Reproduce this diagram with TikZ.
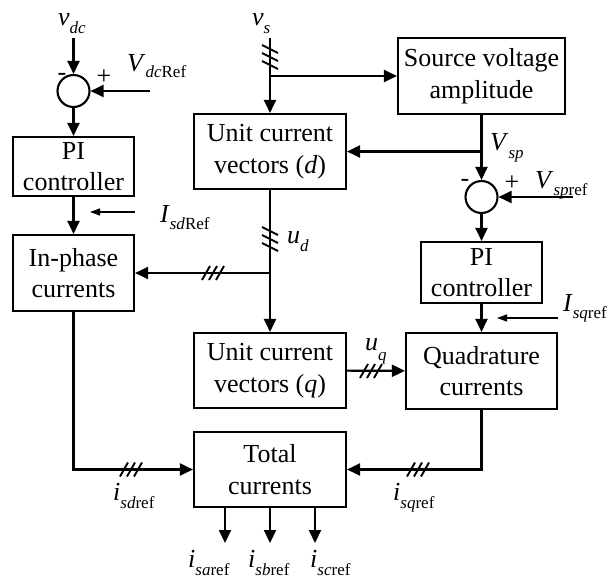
\documentclass[tikz,border=0pt]{standalone}
\usepackage{fontspec}
\setmainfont{Liberation Serif}
\usetikzlibrary{arrows.meta}
\newcommand\sbs[2][8pt]{\raisebox{-#1}{\fontsize{17}{17}\selectfont #2}}
\begin{document}
\begin{tikzpicture}[x=1pt,y=-1pt,
  font=\fontsize{26}{31.5}\selectfont,
  blk/.style={draw, line width=2.1pt, inner sep=0pt, align=center},
  conn/.style={line width=2.1pt, -{Triangle[length=13pt,width=12pt]}},
  thinarrow/.style={line width=1.1pt, -{Triangle[length=10pt,width=7pt]}},
  sumc/.style={circle, draw, line width=2.1pt, minimum size=32pt, inner sep=0pt},
  lbl/.style={anchor=base west, inner sep=0pt},
  sgn/.style={inner sep=0pt},
  vticks/.pic={\draw[line width=1.9pt] (-8,-12) -- (8,-4) (-8,-4) -- (8,4) (-8,4) -- (8,12);},
  hticks/.pic={\draw[line width=1.9pt] (-11,7) -- (-3,-7) (-4,7) -- (4,-7) (3,7) -- (11,-7);},
 ]
\useasboundingbox (0,0) rectangle (607,579);

% blocks
\node[blk, minimum width=121pt, minimum height=59pt] (pi1) at (73.5,166.5) {PI\\controller};
\node[blk, minimum width=121pt, minimum height=76pt] (inph) at (73.5,273) {In-phase\\currents};
\node[blk, minimum width=152pt, minimum height=75pt] (ucd) at (270,151.5) {Unit current\\vectors (\textit{d})};
\node[blk, minimum width=167pt, minimum height=76pt] (src) at (481.5,76) {Source voltage\\amplitude};
\node[blk, minimum width=121pt, minimum height=61pt] (pi2) at (481.5,272.5) {PI\\controller};
\node[blk, minimum width=152pt, minimum height=75pt] (ucq) at (270,370.5) {Unit current\\vectors (\textit{q})};
\node[blk, minimum width=151pt, minimum height=76pt] (quad) at (481.5,371) {Quadrature\\currents};
\node[blk, minimum width=152pt, minimum height=75pt] (tot) at (270,469.5) {Total\\currents};
\node[sumc] (s1) at (73.5,91) {};
\node[sumc] (s2) at (481.5,197) {};

% coordinates
\coordinate (vdcin) at (73.5,38);
\coordinate (vsin) at (270,38);
\coordinate (vdcref) at (150,91);
\coordinate (vspref) at (573,197);
\coordinate (br1) at (270,76);
\coordinate (br2) at (481.5,151.5);
\coordinate (br3) at (270,273);
\coordinate (isd1) at (135,212);
\coordinate (isd2) at (90,212);
\coordinate (isq1) at (558,318);
\coordinate (isq2) at (497,318);
\coordinate (oa) at (225,543);
\coordinate (ob) at (270,543);
\coordinate (oc) at (315,543);

% connectors
\draw[conn] (vdcin) -- (s1);
\draw[conn] (vdcref) -- (s1);
\draw[conn] (s1) -- (pi1);
\draw[conn] (pi1) -- (inph);
\draw[thinarrow] (isd1) -- (isd2);
\draw[conn] (vsin) -- (ucd);
\draw[conn] (br1) -- (src);
\draw[conn] (src) -- (s2);
\draw[conn] (br2) -- (ucd);
\draw[conn] (vspref) -- (s2);
\draw[conn] (s2) -- (pi2);
\draw[conn] (pi2) -- (quad);
\draw[thinarrow] (isq1) -- (isq2);
\draw[conn] (ucd) -- (ucq);
\draw[conn] (br3) -- (inph);
\draw[conn] (ucq) -- (quad);
\draw[conn] (inph.south) |- (tot.west);
\draw[conn] (quad.south) |- (tot.east);
\draw[conn] (tot.south -| oa) -- (oa);
\draw[conn] (tot.south -| ob) -- (ob);
\draw[conn] (tot.south -| oc) -- (oc);

% multi-phase tick marks
\pic at (270,57) {vticks};
\pic at (270,239) {vticks};
\pic at (213,273) {hticks};
\pic at (131,469.5) {hticks};
\pic at (418,469.5) {hticks};
\pic at (371,371) {hticks};

% signs
\node[sgn] (m1) at (62,77) {-};
\node[sgn] (p1) at (104,77) {+};
\node[sgn] (m2) at (465,183) {-};
\node[sgn] (p2) at (512,183) {+};

% labels
\node[lbl] (lvdc) at (58,25) {\textit{v}\sbs{\textit{dc}}};
\node[lbl] (lvs) at (252,25) {\textit{v}\sbs{\textit{s}}};
\node[lbl] (lvdcref) at (127,71) {\textit{V}\sbs[6pt]{\textit{dc}Ref}};
\node[lbl] (lisdref) at (160,222) {\textit{I}\sbs[7pt]{\textit{sd}Ref}};
\node[lbl] (lud) at (287,243) {\textit{u}\sbs{\textit{d}}};
\node[lbl] (lvsp) at (490,150) {\textit{V}\sbs{\textit{sp}}};
\node[lbl] (lvspref) at (535,188) {\textit{V}\sbs[7pt]{\textit{sp}ref}};
\node[lbl] (lisqref) at (563,311) {\textit{I}\sbs[7pt]{\textit{sq}ref}};
\node[lbl] (luq) at (365,350) {\textit{u}\sbs[10pt]{\textit{q}}};
\node[lbl] (lisd) at (113,500) {\textit{i}\sbs{\textit{sd}ref}};
\node[lbl] (lisq) at (393,500) {\textit{i}\sbs{\textit{sq}ref}};
\node[lbl] (lisa) at (188,567) {\textit{i}\sbs{\textit{sa}ref}};
\node[lbl] (lisb) at (248,567) {\textit{i}\sbs{\textit{sb}ref}};
\node[lbl] (lisc) at (310,567) {\textit{i}\sbs{\textit{sc}ref}};
\end{tikzpicture}
\end{document}
